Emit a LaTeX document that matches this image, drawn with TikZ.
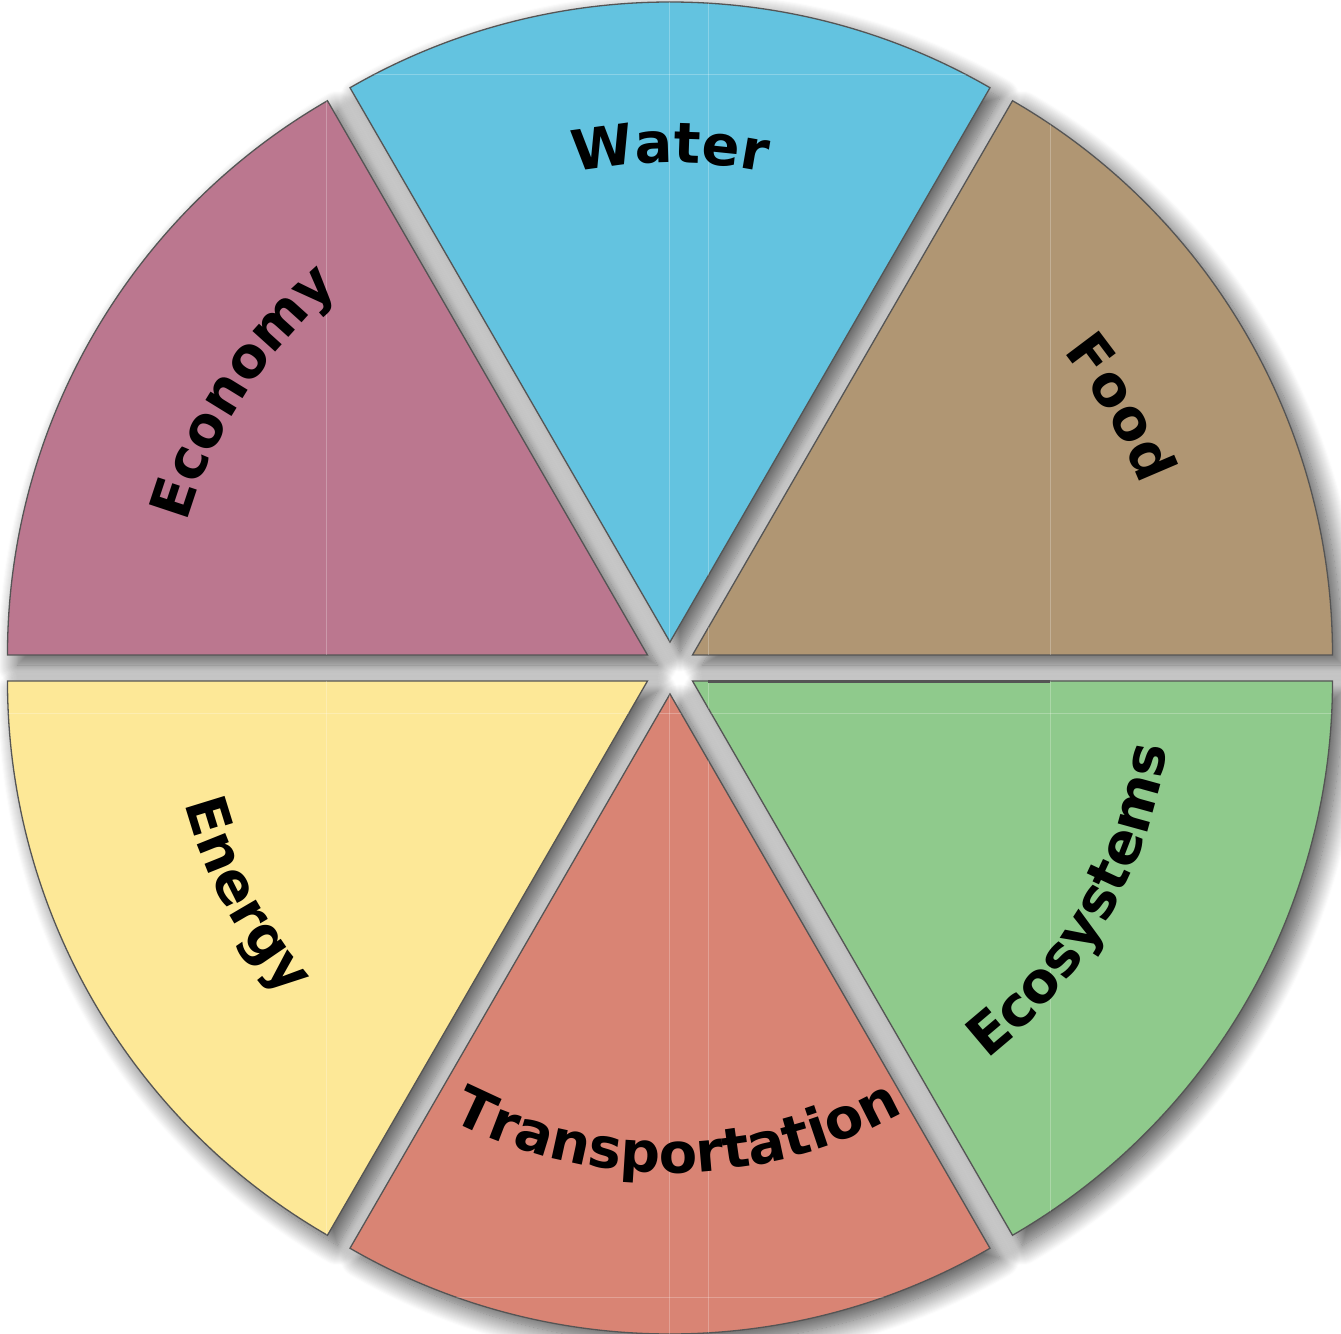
\documentclass[tikz,border=0pt]{standalone}
\usepackage{fontspec}
\newfontfamily\labfont{DejaVu Sans Bold}
\usetikzlibrary{decorations.text,shadows.blur,calc}
\definecolor{cWater}{HTML}{63C3E0}
\definecolor{cFood}{HTML}{B09673}
\definecolor{cEco}{HTML}{8FCA8C}
\definecolor{cTrans}{HTML}{D98474}
\definecolor{cEnergy}{HTML}{FDE897}
\definecolor{cEconomy}{HTML}{BB778F}
\definecolor{edgegray}{HTML}{555555}
\tikzset{
  shadowonly/.style={blur shadow={shadow xshift=10pt, shadow yshift=-10pt, shadow blur radius=20pt, shadow blur steps=20, shadow opacity=70}},
  sectorfill/.style={draw=edgegray, line width=1.3pt, line join=miter, fill=#1},
  faint/.style={draw=white, opacity=0.25, line width=1pt},
  label/.style={decorate, decoration={text along path, text align=center, text={|\labfont\fontsize{56pt}{60pt}\selectfont|#1}}},
}
\newcommand\sectorpath[1]{(#1:26pt) -- ++(#1-30:640pt) arc[start angle=#1-30, end angle=#1+30, radius=640pt] -- cycle}
\begin{document}
\begin{tikzpicture}[x=1pt,y=1pt]
\useasboundingbox (-670,-665) rectangle (671,668);
% apex coordinates
\coordinate (wA) at (90:26pt);
\coordinate (fA) at (30:26pt);
\coordinate (esA) at (-30:26pt);
\coordinate (tA) at (-90:26pt);
\coordinate (enA) at (-150:26pt);
\coordinate (ecA) at (150:26pt);
% shadows first
\foreach \a in {90,30,-30,-90,-150,150} {
  \path[shadowonly] \sectorpath{\a};
}
% sectors
\path[sectorfill=cWater] \sectorpath{90};
\path[sectorfill=cFood] \sectorpath{30};
\path[sectorfill=cEco] \sectorpath{-30};
\path[sectorfill=cTrans] \sectorpath{-90};
\path[sectorfill=cEnergy] \sectorpath{-150};
\path[sectorfill=cEconomy] \sectorpath{150};
% faint tile lines
\begin{scope}
  \clip \sectorpath{90} \sectorpath{30} \sectorpath{-30} \sectorpath{-90} \sectorpath{-150} \sectorpath{150};
  \foreach \x in {-343,-1,38,380} { \draw[faint] (\x,-670) -- (\x,670); }
  \foreach \y in {593,-45,-629} { \draw[faint] (-680,\y) -- (680,\y); }
\end{scope}
% dark edge on Ecosystems
\draw[edgegray, line width=3pt] (38,-14) -- (380,-14);
% labels
\path[label=Water] ($(wA)+(130:479pt)$) arc[start angle=130, end angle=50, radius=479pt];
\path[label=Food] ($(fA)+(70:479pt)$) arc[start angle=70, end angle=-10, radius=479pt];
\path[label=Economy] ($(ecA)+(187:479pt)$) arc[start angle=187, end angle=107, radius=479pt];
\path[label=Transportation] ($(tA)+(-129:479pt)$) arc[start angle=-129, end angle=-49, radius=479pt];
\path[label=Ecosystems] ($(esA)+(-70:479pt)$) arc[start angle=-70, end angle=10, radius=479pt];
\path[label=Energy] ($(enA)+(168:479pt)$) arc[start angle=168, end angle=248, radius=479pt];
\end{tikzpicture}
\end{document}
